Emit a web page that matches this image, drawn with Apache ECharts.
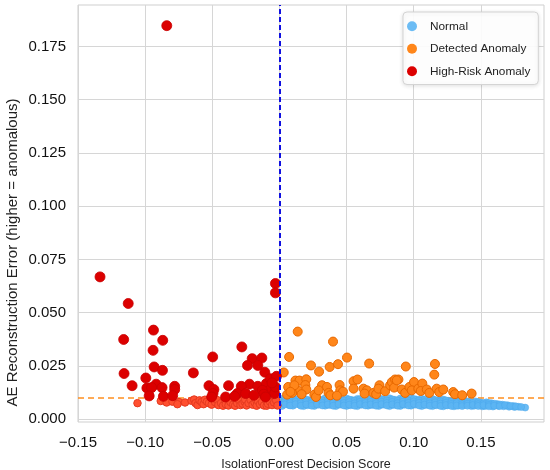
<!DOCTYPE html>
<html>
<head>
<meta charset="utf-8">
<script src="https://cdn.jsdelivr.net/npm/echarts@6/dist/echarts.min.js"></script>
<style>
  html, body { margin: 0; padding: 0; background: #fff; }
  #main { width: 550px; height: 470px; }
</style>
</head>
<body>
<div id="main"></div>
<script>
// tick positions
var xTicks = [-0.15, -0.10, -0.05, 0.00, 0.05, 0.10, 0.15];
var yTicks = [0.000, 0.025, 0.050, 0.075, 0.100, 0.125, 0.150, 0.175];

// thresholds
var scoreCut = 0;
var errorCut = 0.0108;

// [decision score, reconstruction error]
var normalPoints = [
  [0.002,0.0096],[0.001,0.0084],[0.003,0.0072],[0.002,0.0062],
  [0.006,0.0090],[0.005,0.0078],[0.007,0.0066],
  [0.010,0.0097],[0.011,0.0086],[0.009,0.0074],[0.010,0.0063],
  [0.014,0.0091],[0.013,0.0080],[0.015,0.0068],
  [0.018,0.0095],[0.019,0.0085],[0.017,0.0073],[0.018,0.0061],
  [0.022,0.0089],[0.023,0.0077],[0.021,0.0065],
  [0.026,0.0096],[0.025,0.0083],[0.027,0.0071],[0.026,0.0062],
  [0.030,0.0092],[0.031,0.0079],[0.029,0.0067],
  [0.034,0.0098],[0.033,0.0086],[0.035,0.0074],[0.034,0.0063],
  [0.038,0.0090],[0.039,0.0078],[0.037,0.0066],
  [0.042,0.0096],[0.041,0.0084],[0.043,0.0072],[0.042,0.0061],
  [0.046,0.0091],[0.047,0.0080],[0.045,0.0068],
  [0.050,0.0097],[0.049,0.0085],[0.051,0.0073],[0.050,0.0062],
  [0.054,0.0090],[0.055,0.0077],[0.053,0.0065],
  [0.058,0.0095],[0.057,0.0083],[0.059,0.0071],[0.058,0.0061],
  [0.062,0.0091],[0.063,0.0079],[0.061,0.0067],
  [0.066,0.0097],[0.065,0.0086],[0.067,0.0074],[0.066,0.0063],
  [0.070,0.0090],[0.071,0.0078],[0.069,0.0066],
  [0.074,0.0096],[0.073,0.0084],[0.075,0.0072],[0.074,0.0062],
  [0.078,0.0092],[0.079,0.0080],[0.077,0.0068],
  [0.082,0.0098],[0.081,0.0085],[0.083,0.0073],[0.082,0.0061],
  [0.086,0.0091],[0.087,0.0078],[0.085,0.0066],
  [0.090,0.0097],[0.089,0.0084],[0.091,0.0072],[0.090,0.0062],
  [0.094,0.0090],[0.095,0.0079],[0.093,0.0067],
  [0.098,0.0099],[0.097,0.0086],[0.099,0.0074],[0.098,0.0063],
  [0.102,0.0092],[0.103,0.0080],[0.101,0.0068],
  [0.106,0.0096],[0.105,0.0083],[0.107,0.0071],[0.106,0.0061],
  [0.110,0.0090],[0.111,0.0078],[0.109,0.0066],
  [0.114,0.0094],[0.113,0.0082],[0.115,0.0070],[0.114,0.0061],
  [0.118,0.0088],[0.119,0.0076],[0.117,0.0065],
  [0.122,0.0092],[0.121,0.0080],[0.123,0.0069],[0.122,0.0060],
  [0.126,0.0086],[0.127,0.0074],[0.125,0.0064],
  [0.130,0.0089],[0.129,0.0078],[0.131,0.0067],[0.130,0.0060],
  [0.134,0.0083],[0.135,0.0072],[0.133,0.0063],
  [0.138,0.0086],[0.139,0.0075],[0.137,0.0065],
  [0.142,0.0080],[0.141,0.0070],[0.143,0.0061],
  [0.146,0.0083],[0.147,0.0072],[0.145,0.0063],
  [0.150,0.0078],[0.149,0.0068],[0.151,0.0060],
  [0.154,0.0079],[0.155,0.0069],[0.153,0.0061],
  [0.158,0.0074],[0.157,0.0065],[0.159,0.0059],
  [0.162,0.0071],[0.163,0.0062],
  [0.166,0.0068],[0.167,0.0060],
  [0.170,0.0065],[0.171,0.0058],
  [0.174,0.0062],[0.175,0.0057],
  [0.178,0.0058],[0.183,0.0054],
  [0.004,0.0093],[0.004,0.0081],[0.004,0.0069],
  [0.008,0.0088],[0.008,0.0075],[0.008,0.0064],
  [0.012,0.0094],[0.012,0.0082],[0.012,0.0070],
  [0.016,0.0087],[0.016,0.0075],[0.016,0.0063],
  [0.020,0.0092],[0.020,0.0081],[0.020,0.0069],
  [0.024,0.0086],[0.024,0.0074],[0.024,0.0063],
  [0.028,0.0094],[0.028,0.0082],[0.028,0.0070],
  [0.032,0.0088],[0.032,0.0076],[0.032,0.0064],
  [0.036,0.0093],[0.036,0.0081],[0.036,0.0069],
  [0.040,0.0087],[0.040,0.0075],[0.040,0.0063],
  [0.044,0.0094],[0.044,0.0082],[0.044,0.0070],
  [0.048,0.0088],[0.048,0.0076],[0.048,0.0064],
  [0.052,0.0092],[0.052,0.0080],[0.052,0.0068],
  [0.056,0.0087],[0.056,0.0074],[0.056,0.0063],
  [0.060,0.0094],[0.060,0.0082],[0.060,0.0070],
  [0.064,0.0088],[0.064,0.0076],[0.064,0.0064],
  [0.068,0.0093],[0.068,0.0081],[0.068,0.0069],
  [0.072,0.0087],[0.072,0.0075],[0.072,0.0063],
  [0.076,0.0094],[0.076,0.0082],[0.076,0.0070],
  [0.080,0.0088],[0.080,0.0076],[0.080,0.0064],
  [0.084,0.0093],[0.084,0.0081],[0.084,0.0069],
  [0.088,0.0087],[0.088,0.0075],[0.088,0.0063],
  [0.092,0.0094],[0.092,0.0082],[0.092,0.0070],
  [0.096,0.0088],[0.096,0.0076],[0.096,0.0064],
  [0.100,0.0095],[0.100,0.0083],[0.100,0.0071],
  [0.104,0.0088],[0.104,0.0076],[0.104,0.0064],
  [0.108,0.0092],[0.108,0.0080],[0.108,0.0068],
  [0.112,0.0086],[0.112,0.0074],[0.112,0.0063],
  [0.116,0.0090],[0.116,0.0079],[0.116,0.0067],
  [0.120,0.0084],[0.120,0.0073],[0.120,0.0062],
  [0.124,0.0088],[0.124,0.0077],[0.124,0.0066],
  [0.128,0.0082],[0.128,0.0071],[0.128,0.0062],
  [0.132,0.0085],[0.132,0.0075],[0.132,0.0064],
  [0.136,0.0080],[0.136,0.0070],[0.136,0.0061],
  [0.140,0.0082],[0.140,0.0072],[0.140,0.0063],
  [0.144,0.0076],[0.144,0.0066],
  [0.148,0.0080],[0.148,0.0070],[0.148,0.0062],
  [0.152,0.0074],[0.152,0.0065],
  [0.156,0.0076],[0.156,0.0067],[0.156,0.0060],
  [0.160,0.0072],[0.160,0.0063],
  [0.164,0.0069],[0.164,0.0061],
  [0.168,0.0066],[0.172,0.0062],[0.176,0.0060],[0.180,0.0057]
];

var detectedPoints = [
  [0.0136,0.0411],[0.0399,0.0364],[0.0503,0.0289],[0.0072,0.0292],
  [0.0235,0.0252],[0.0374,0.0245],[0.0436,0.0258],[0.0668,0.0261],
  [0.0941,0.0247],[0.1158,0.0259],[0.1153,0.0209],[0.0295,0.0223],
  [0.0032,0.0219],[0.0119,0.0181],[0.0149,0.0181],[0.0200,0.0187],
  [0.0193,0.0160],[0.0065,0.0151],[0.0136,0.0135],[0.0200,0.0139],
  [0.0094,0.0123],[0.0057,0.0115],[0.0260,0.0115],[0.0272,0.0104],
  [0.0317,0.0159],[0.0354,0.0151],[0.0292,0.0135],[0.0366,0.0123],
  [0.0379,0.0112],[0.0448,0.0160],[0.0453,0.0135],[0.0473,0.0129],
  [0.0552,0.0178],[0.0581,0.0186],[0.0626,0.0143],[0.0651,0.0135],
  [0.0634,0.0120],[0.0700,0.0123],[0.0720,0.0117],[0.0745,0.0159],
  [0.0737,0.0143],[0.0787,0.0131],[0.0824,0.0159],[0.0837,0.0174],
  [0.0861,0.0186],[0.0886,0.0186],[0.0854,0.0148],[0.0911,0.0139],
  [0.0936,0.0123],[0.0968,0.0151],[0.1002,0.0174],[0.0985,0.0135],
  [0.1034,0.0143],[0.1064,0.0167],[0.1052,0.0132],[0.1097,0.0139],
  [0.1116,0.0123],[0.1171,0.0143],[0.1190,0.0127],[0.1220,0.0139],
  [0.1294,0.0127],[0.1307,0.0117],[0.1361,0.0112],[0.1431,0.0120],
  [0.0111,0.0159],[0.0552,0.0143],[0.0874,0.0182],[0.0082,0.0128],
  [0.0165,0.0117],[0.0428,0.0110]
];

var flaggedPoints = [
  [-0.1057,0.0075],[-0.0884,0.0085],[-0.0840,0.0078],[-0.0797,0.0082],
  [-0.0748,0.0080],[-0.0703,0.0078],[-0.0760,0.0070],[-0.0655,0.0086],
  [-0.0635,0.0092],[-0.0625,0.0075],[-0.0610,0.0066],[-0.0595,0.0088],
  [-0.0580,0.0080],[-0.0565,0.0070],[-0.0555,0.0091],[-0.0540,0.0082],
  [-0.0525,0.0075],[-0.0505,0.0068],[-0.0480,0.0080],[-0.0465,0.0090],
  [-0.0455,0.0066],[-0.0435,0.0075],[-0.0420,0.0063],[-0.0405,0.0090],
  [-0.0400,0.0070],[-0.0380,0.0064],[-0.0365,0.0080],[-0.0345,0.0068],
  [-0.0330,0.0063],[-0.0315,0.0075],[-0.0300,0.0088],[-0.0290,0.0066],
  [-0.0275,0.0072],[-0.0260,0.0082],[-0.0255,0.0092],[-0.0245,0.0064],
  [-0.0230,0.0075],[-0.0215,0.0090],[-0.0200,0.0068],[-0.0185,0.0078],
  [-0.0175,0.0092],[-0.0170,0.0063],[-0.0160,0.0085],[-0.0145,0.0070],
  [-0.0130,0.0080],[-0.0115,0.0064],[-0.0100,0.0090],[-0.0095,0.0063],
  [-0.0085,0.0072],[-0.0070,0.0082],[-0.0055,0.0066],[-0.0040,0.0078],
  [-0.0025,0.0088],[-0.0015,0.0064]
];

var highRiskPoints = [
  [-0.1336,0.0668],[-0.1126,0.0543],[-0.1160,0.0374],[-0.1157,0.0214],
  [-0.1097,0.0157],[-0.0938,0.0418],[-0.0869,0.0370],[-0.0941,0.0323],
  [-0.0933,0.0245],[-0.0871,0.0229],[-0.0995,0.0193],[-0.0918,0.0164],
  [-0.0987,0.0146],[-0.0952,0.0148],[-0.0874,0.0148],[-0.0780,0.0154],
  [-0.0780,0.0139],[-0.0970,0.0109],[-0.0864,0.0107],[-0.0795,0.0110],
  [-0.0641,0.0217],[-0.0497,0.0292],[-0.0525,0.0157],[-0.0488,0.0139],
  [-0.0495,0.0120],[-0.0505,0.0104],[-0.0379,0.0157],[-0.0401,0.0104],
  [-0.0280,0.0339],[-0.0203,0.0284],[-0.0131,0.0287],[-0.0238,0.0252],
  [-0.0161,0.0252],[-0.0223,0.0164],[-0.0284,0.0154],[-0.0314,0.0120],
  [-0.0252,0.0120],[-0.0161,0.0154],[-0.0109,0.0220],[-0.0097,0.0167],
  [-0.0067,0.0190],[-0.0022,0.0201],[-0.0042,0.0143],[-0.0074,0.0135],
  [-0.0128,0.0135],[-0.0117,0.0117],[-0.0030,0.0637],[-0.0030,0.0593],
  [-0.0037,0.0120],[-0.0839,0.1848],[-0.0334,0.0107],[-0.0190,0.0112],
  [-0.0104,0.0104],[-0.0030,0.0151],[-0.0055,0.0170]
];

var fontName = '"Liberation Sans", Arial, sans-serif';

function fmt(v, d) {
  var s = Math.abs(v).toFixed(d);
  return v < -1e-9 ? '\u2212' + s : s;
}

var myChart = echarts.init(document.getElementById('main'));

var option = {
  backgroundColor: '#fff',
  animation: false,
  textStyle: { fontFamily: fontName },
  grid: {
    left: 78, right: 6, top: 5, bottom: 48,
    outerBoundsMode: 'none', containLabel: false,
    show: true, borderColor: '#cfcfcf', borderWidth: 1
  },
  legend: {
    left: 403, top: 12,
    orient: 'vertical',
    data: ['Normal', 'Detected Anomaly', 'High-Risk Anomaly'],
    icon: 'circle',
    itemWidth: 26, itemHeight: 10, itemGap: 10, itemTextGap: 8,
    padding: [8, 8, 7, 4],
    backgroundColor: 'rgba(255,255,255,0.92)',
    borderColor: '#d4d4d4', borderWidth: 1, borderRadius: 4,
    shadowColor: 'rgba(0,0,0,0.12)', shadowBlur: 4, shadowOffsetY: 1,
    itemStyle: { borderWidth: 0 },
    textStyle: { fontSize: 11.8, color: '#222', lineHeight: 12.5, fontFamily: fontName }
  },
  xAxis: {
    type: 'value',
    min: -0.15, max: 0.197,
    name: 'IsolationForest Decision Score',
    nameLocation: 'middle', nameGap: 36, nameMoveOverlap: false,
    nameTextStyle: { fontSize: 12.5, color: '#222', padding: [0, 10, 0, 0] },
    axisLine: { show: false },
    axisTick: { show: false, customValues: xTicks },
    axisLabel: { customValues: xTicks, fontSize: 15, color: '#111', margin: 13, formatter: function (v) { return fmt(v, 2); } },
    splitLine: { show: true, lineStyle: { color: '#d6d6d6', width: 1 } }
  },
  yAxis: {
    type: 'value',
    min: -0.00136, max: 0.1945,
    name: 'AE Reconstruction Error (higher = anomalous)',
    nameLocation: 'middle', nameGap: 58, nameMoveOverlap: false,
    nameTextStyle: { fontSize: 15, color: '#222', padding: [0, 78, 0, 0] },
    axisLine: { show: false },
    axisTick: { show: false, customValues: yTicks },
    axisLabel: { customValues: yTicks, fontSize: 15, color: '#111', margin: 12, formatter: function (v) { return fmt(v, 3); } },
    splitLine: { show: true, lineStyle: { color: '#d6d6d6', width: 1 } }
  },
  series: [
    {
      name: 'Normal', type: 'scatter', data: normalPoints,
      symbolSize: 7,
      itemStyle: { color: '#5cb5f3', opacity: 0.9, borderColor: '#4aa6ea', borderWidth: 0.5 },
      markLine: {
        silent: true, symbol: 'none', z: 10,
        label: { show: false },
        lineStyle: { color: '#1010e0', type: [5, 3], width: 2 },
        data: [{ xAxis: scoreCut }]
      }
    },
    {
      name: 'Detected Anomaly', type: 'scatter', data: detectedPoints,
      symbolSize: 9,
      itemStyle: { color: '#ff861a', opacity: 1, borderColor: '#e86800', borderWidth: 1 },
      markLine: {
        silent: true, symbol: 'none', z: 1,
        label: { show: false },
        lineStyle: { color: '#ff8f1f', type: [6, 4], width: 1.6 },
        data: [{ yAxis: errorCut }]
      }
    },
    {
      name: 'Flagged', type: 'scatter', data: flaggedPoints,
      symbolSize: 7.5,
      itemStyle: { color: '#ff5030', opacity: 1, borderColor: '#e53a20', borderWidth: 1 }
    },
    {
      name: 'High-Risk Anomaly', type: 'scatter', data: highRiskPoints,
      symbolSize: 10,
      itemStyle: { color: '#dc0000', opacity: 1, borderColor: '#c80000', borderWidth: 0.8 }
    }
  ]
};

myChart.setOption(option);
</script>
</body>
</html>
